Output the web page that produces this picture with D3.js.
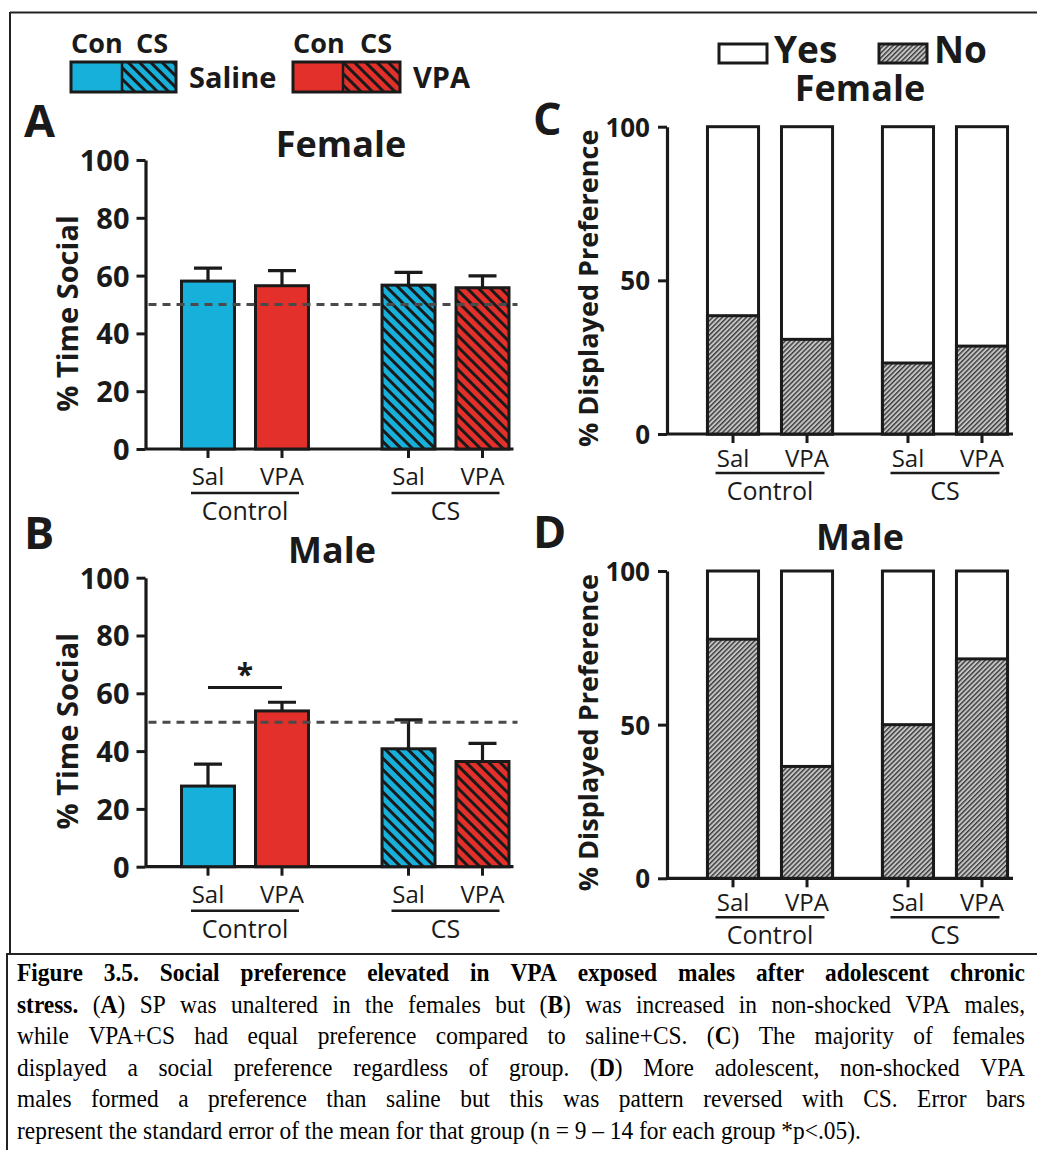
<!DOCTYPE html>
<html><head><meta charset="utf-8">
<script src="https://cdn.jsdelivr.net/npm/d3@7"></script>
<style>
body{margin:0;background:#fff;}
svg{display:block;}
.sans{font-family:"Open Sans","Noto Sans",sans-serif;}
</style></head><body>
<svg id="fig" width="1037" height="1150"></svg>
<script>
// ---------------- DATA ----------------
const conditions = ["Sal", "VPA"];
const groupLabels = ["Control", "CS"];
const treatmentNames = ["Saline", "VPA"];
const legendSubLabels = ["Con", "CS"];
const femaleTimeMean = [58.1, 56.5, 56.7, 55.8];
const femaleTimeSEM  = [4.5, 5.2, 4.4, 4.1];
const maleTimeMean   = [27.9, 53.9, 40.8, 36.4];
const maleTimeSEM    = [7.6, 3.0, 10.0, 6.3];
const femaleNoPct    = [38.5, 30.8, 23.1, 28.6];
const maleNoPct      = [77.8, 36.4, 50.0, 71.4];
const timeTicks = [0, 20, 40, 60, 80, 100];
const prefTicks = [0, 50, 100];
const chanceLevel = 50;
const maleSigPairs = [[0, 1]];
const prefLegend = ["Yes", "No"];
const captionLines = [
  [["Figure 3.5. Social preference elevated in VPA exposed males after adolescent chronic", 1]],
  [["stress.", 1], [" (", 0], ["A", 1], [") SP was unaltered in the females but (", 0], ["B", 1], [") was increased in non-shocked VPA males,", 0]],
  [["while VPA+CS had equal preference compared to saline+CS. (", 0], ["C", 1], [") The majority of females", 0]],
  [["displayed a social preference regardless of group. (", 0], ["D", 1], [") More adolescent, non-shocked VPA", 0]],
  [["males formed a preference than saline but this was pattern reversed with CS. Error bars", 0]],
  [["represent the standard error of the mean for that group (n = 9 – 14 for each group *p<.05).", 0]]
];

// ---------------- STYLE ----------------
const BLUE = "#17b0da", RED = "#e3302a", INK = "#1a1a1a";
const svg = d3.select("#fig");
svg.append("rect").attr("width", 1037).attr("height", 1150).attr("fill", "#fff");
const defs = svg.append("defs");
function stripe(id, color) {
  const p = defs.append("pattern").attr("id", id).attr("patternUnits", "userSpaceOnUse")
    .attr("width", 8).attr("height", 8).attr("patternTransform", "rotate(45)");
  p.append("rect").attr("width", 8).attr("height", 8).attr("fill", color);
  p.append("rect").attr("width", 8).attr("height", 3).attr("fill", INK);
}
stripe("hatchBlue", BLUE);
stripe("hatchRed", RED);
{
  const p = defs.append("pattern").attr("id", "hatchGray").attr("patternUnits", "userSpaceOnUse")
    .attr("width", 3.4).attr("height", 3.4).attr("patternTransform", "rotate(-45)");
  p.append("rect").attr("width", 3.4).attr("height", 3.4).attr("fill", "#c4c4c4");
  p.append("rect").attr("width", 3.4).attr("height", 1.4).attr("fill", "#3a3a3a");
}

// frame
svg.append("path").attr("d", "M10,12.5 H1037 M10,12 V954").attr("stroke", "#222").attr("stroke-width", 2).attr("fill", "none");
svg.append("rect").attr("x", 7).attr("y", 954).attr("width", 1040).attr("height", 210)
  .attr("fill", "none").attr("stroke", "#222").attr("stroke-width", 2);

const cells = d3.cross(groupLabels, conditions); // [[Control,Sal],[Control,VPA],[CS,Sal],[CS,VPA]]

function txt(g, x, y, s, size, weight, anchor) {
  return g.append("text").attr("class", "sans").attr("x", x).attr("y", y).text(s)
    .attr("font-size", size).attr("font-weight", weight).attr("fill", INK)
    .attr("text-anchor", anchor || "middle");
}

function panel(o) {
  const g = svg.append("g");
  const y = d3.scaleLinear().domain([0, 100]).range([o.y0, o.y100]);
  const outer = d3.scaleBand().domain(groupLabels).range(o.xRange).paddingInner(o.outerPad);
  const inner = d3.scaleBand().domain(conditions).range([0, outer.bandwidth()])
    .paddingInner(o.innerPad).paddingOuter(o.innerPad / 2);
  const cx = d => outer(d[0]) + inner(d[1]) + inner.bandwidth() / 2;
  const xL = d => outer(d[0]) + inner(d[1]);

  // x axis
  g.append("line").attr("x1", o.axisX).attr("x2", o.xRange[1] - 6).attr("y1", o.y0).attr("y2", o.y0)
    .attr("stroke", INK).attr("stroke-width", 3.2);
  g.selectAll(".xt").data(cells).join("line")
    .attr("x1", cx).attr("x2", cx).attr("y1", o.y0).attr("y2", o.y0 + 9)
    .attr("stroke", INK).attr("stroke-width", 3);
  g.selectAll(".xl").data(cells).join("text").attr("class", "sans")
    .attr("x", cx).attr("y", o.y0 + o.lab[0]).text(d => d[1])
    .attr("font-size", o.xFont).attr("text-anchor", "middle").attr("fill", INK);
  groupLabels.forEach(gl => {
    const c = outer(gl) + outer.bandwidth() / 2;
    g.append("line").attr("x1", c - o.ulHalf).attr("x2", c + o.ulHalf)
      .attr("y1", o.y0 + o.lab[1]).attr("y2", o.y0 + o.lab[1]).attr("stroke", INK).attr("stroke-width", 2.6);
    txt(g, c, o.y0 + o.lab[2], gl, o.xFont + 1, 400);
  });

  // bars
  if (o.type === "time") {
    g.selectAll(".bar").data(cells).join("rect")
      .attr("x", xL).attr("width", inner.bandwidth())
      .attr("y", (d, i) => y(o.mean[i])).attr("height", (d, i) => y(0) - y(o.mean[i]))
      .attr("fill", d => d[0] === "CS" ? (d[1] === "Sal" ? "url(#hatchBlue)" : "url(#hatchRed)") : (d[1] === "Sal" ? BLUE : RED))
      .attr("stroke", INK).attr("stroke-width", 3);
    // error bars
    g.selectAll(".err").data(cells).join("path")
      .attr("d", (d, i) => {
        const c = cx(d), t = y(o.mean[i] + o.sem[i]);
        return `M${c},${y(o.mean[i])}V${t}M${c - 14},${t}H${c + 14}`;
      })
      .attr("stroke", INK).attr("stroke-width", 3.2).attr("fill", "none");
    // chance line
    g.append("line").attr("x1", o.axisX + 3).attr("x2", o.xRange[1] - 2)
      .attr("y1", y(chanceLevel)).attr("y2", y(chanceLevel))
      .attr("stroke", "#4a4a4a").attr("stroke-width", 3).attr("stroke-dasharray", "8,6");
    (o.sig || []).forEach(([a, b]) => {
      const yy = y(62);
      g.append("line").attr("x1", cx(cells[a])).attr("x2", cx(cells[b])).attr("y1", yy).attr("y2", yy)
        .attr("stroke", INK).attr("stroke-width", 3);
      txt(g, (cx(cells[a]) + cx(cells[b])) / 2, yy - 3, "*", 30, 700);
    });
  } else {
    g.selectAll(".yes").data(cells).join("rect")
      .attr("x", xL).attr("width", inner.bandwidth())
      .attr("y", y(100)).attr("height", y(0) - y(100))
      .attr("fill", "#fff").attr("stroke", INK).attr("stroke-width", 3);
    g.selectAll(".no").data(cells).join("rect")
      .attr("x", xL).attr("width", inner.bandwidth())
      .attr("y", (d, i) => y(o.no[i])).attr("height", (d, i) => y(0) - y(o.no[i]))
      .attr("fill", "url(#hatchGray)").attr("stroke", INK).attr("stroke-width", 3);
  }

  // y axis
  const ax = g.append("g").attr("transform", `translate(${o.axisX},0)`)
    .call(d3.axisLeft(y).tickValues(o.ticks).tickSize(9).tickSizeOuter(0).tickPadding(o.tickPad));
  ax.select(".domain").attr("stroke", INK).attr("stroke-width", 3.2);
  ax.selectAll(".tick line").attr("stroke", INK).attr("stroke-width", 3);
  ax.selectAll(".tick text").attr("class", "sans").attr("font-size", o.tickFont)
    .attr("font-weight", 700).attr("fill", INK).attr("dy", "0.36em");

  // y title
  const ym = (o.y0 + o.y100) / 2 + o.titleShift;
  g.append("text").attr("class", "sans").attr("transform", `translate(${o.yTitleX},${ym}) rotate(-90)`)
    .attr("text-anchor", "middle").attr("font-size", o.yTitleFont).attr("font-weight", 700)
    .attr("fill", INK).text(o.yTitle);
  // title & letter
  txt(g, o.titleX, o.titleY, o.title, 36, 700);
  txt(g, o.letterX, o.letterY, o.letter, 45, 700, "start");
}

const timeCommon = { type: "time", axisX: 145.5, xRange: [171, 519.5], outerPad: 0.262, innerPad: 0.284,
  ticks: timeTicks, tickFont: 29, tickPad: 7, xFont: 24, lab: [36, 44, 71], ulHalf: 54,
  yTitle: "% Time Social", yTitleX: 78, yTitleFont: 29, titleShift: 9, letterX: 24 };
const prefCommon = { type: "pref", axisX: 667, xRange: [696, 1019], outerPad: 0.154, innerPad: 0.31,
  ticks: prefTicks, tickFont: 26, tickPad: 8, xFont: 24, lab: [33, 39, 66], ulHalf: 54.5,
  yTitle: "% Displayed Preference", yTitleX: 598, yTitleFont: 27, titleShift: 8, letterX: 533, titleX: 860 };

panel({ ...timeCommon, y0: 449, y100: 160, mean: femaleTimeMean, sem: femaleTimeSEM,
  title: "Female", titleX: 341, titleY: 157, letter: "A", letterY: 137 });
panel({ ...timeCommon, y0: 866.7, y100: 577.7, mean: maleTimeMean, sem: maleTimeSEM, sig: maleSigPairs,
  title: "Male", titleX: 332, titleY: 563, letter: "B", letterY: 549 });
panel({ ...prefCommon, y0: 434, y100: 126.7, no: femaleNoPct,
  title: "Female", titleY: 101, letter: "C", letterY: 135 });
panel({ ...prefCommon, y0: 878.3, y100: 571, no: maleNoPct,
  title: "Male", titleY: 550, letter: "D", letterY: 548 });

// ---------------- LEGENDS ----------------
const lg = svg.append("g");
[[71, 122, 176, BLUE, "url(#hatchBlue)"], [293, 343, 400, RED, "url(#hatchRed)"]].forEach((b, i) => {
  lg.append("rect").attr("x", b[0]).attr("y", 62).attr("width", b[1] - b[0]).attr("height", 30).attr("fill", b[3]);
  lg.append("rect").attr("x", b[1]).attr("y", 62).attr("width", b[2] - b[1]).attr("height", 30).attr("fill", b[4]);
  lg.append("rect").attr("x", b[0]).attr("y", 62).attr("width", b[2] - b[0]).attr("height", 30)
    .attr("fill", "none").attr("stroke", INK).attr("stroke-width", 3);
  lg.append("line").attr("x1", b[1]).attr("x2", b[1]).attr("y1", 62).attr("y2", 92).attr("stroke", INK).attr("stroke-width", 2.5);
  txt(lg, b[0], 53, legendSubLabels[0], 27, 700, "start");
  txt(lg, b[2] - 8, 53, legendSubLabels[1], 27, 700, "end");
  txt(lg, b[2] + 13, 88, treatmentNames[i], 29, 700, "start");
});
[[719, "#fff"], [879, "url(#hatchGray)"]].forEach((b, i) => {
  lg.append("rect").attr("x", b[0]).attr("y", 44).attr("width", 48).attr("height", 19)
    .attr("fill", b[1]).attr("stroke", INK).attr("stroke-width", 3);
  txt(lg, b[0] + 55, 63, prefLegend[i], 37, 700, "start");
});

// ---------------- CAPTION ----------------
const capX0 = 17, capX1 = 1025, capBase = 981, capStep = 31.6, capSqueeze = 0.918;
const cap = svg.append("g").attr("font-family", "'Liberation Serif','Times New Roman',serif")
  .attr("font-size", 25.5).attr("fill", "#000")
  .attr("transform", `translate(${capX0},0) scale(${capSqueeze},1)`);
const capW = (capX1 - capX0) / capSqueeze;
const spaceProbe = cap.append("text").text("a a");
const spaceProbe2 = cap.append("text").text("aa");
const spaceW = spaceProbe.node().getComputedTextLength() - spaceProbe2.node().getComputedTextLength();
spaceProbe.remove(); spaceProbe2.remove();
captionLines.forEach((segs, li) => {
  const words = [];
  let cur = [];
  segs.forEach(([t, b]) => {
    t.split(" ").forEach((p, k) => {
      if (k > 0) { if (cur.length) words.push(cur); cur = []; }
      if (p.length) cur.push([p, b]);
    });
  });
  if (cur.length) words.push(cur);
  const nodes = words.map(w => {
    const t = cap.append("text").attr("y", capBase + li * capStep);
    w.forEach(([s, b]) => t.append("tspan").attr("font-weight", b ? 700 : 400).text(s));
    return t;
  });
  const widths = nodes.map(n => n.node().getComputedTextLength());
  const total = d3.sum(widths);
  const last = li === captionLines.length - 1;
  const gap = last ? spaceW : (capW - total) / (words.length - 1);
  let x = 0;
  nodes.forEach((n, k) => { n.attr("x", x); x += widths[k] + gap; });
});
</script>
</body></html>
